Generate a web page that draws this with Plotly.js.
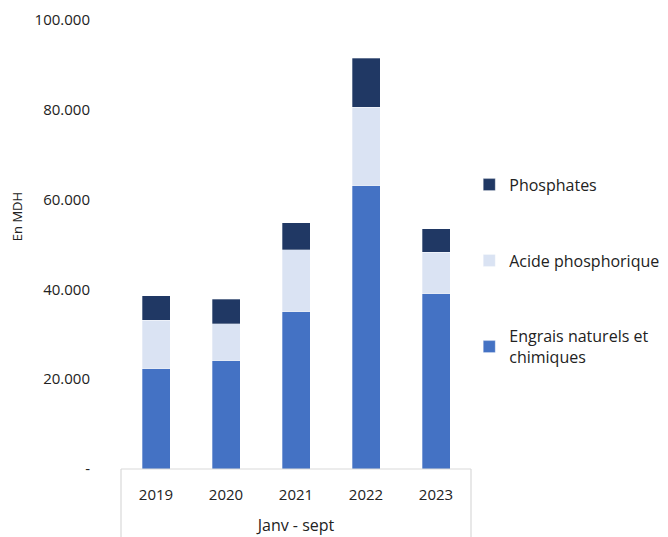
<!DOCTYPE html>
<html>
<head>
<meta charset="utf-8">
<script src="https://cdn.plot.ly/plotly-3.0.1.min.js"></script>
<style>html,body{margin:0;padding:0;background:#fff;}#chart{width:668px;height:537px;}</style>
</head>
<body>
<div id="chart"></div>
<script>
const years = ["2019", "2020", "2021", "2022", "2023"];
const engrais = [22300, 24100, 35000, 63100, 39000];
const acide = [10800, 8200, 13800, 17500, 9300];
const phosphates = [5500, 5500, 6100, 10900, 5200];
const yTicks = [0, 20000, 40000, 60000, 80000, 100000];
const yTickText = ["-", "20.000", "40.000", "60.000", "80.000", "100.000"];

const FONT = "Open Sans, Lato, sans-serif";
const mkTrace = (name, y, color, grp, rank) => ({
  type: "bar", x: years, y: y, name: name, legendgroup: grp, legendrank: rank,
  marker: {color: color, line: {color: "rgba(255,255,255,0.5)", width: 0.6}},
  hoverinfo: "y+name"
});
const data = [
  mkTrace("Engrais naturels et<br>chimiques", engrais, "#4472C4", "c", 3),
  mkTrace("Acide phosphorique", acide, "#DAE3F3", "b", 2),
  mkTrace("Phosphates", phosphates, "#203864", "a", 1)
];
const layout = {
  width: 668, height: 537,
  margin: {l: 121, r: 197, t: 20, b: 68, autoexpand: false},
  barmode: "stack", bargap: 0.6,
  paper_bgcolor: "#fff", plot_bgcolor: "#fff",
  font: {family: FONT, color: "#222", size: 15},
  showlegend: true,
  legend: {x: 0.995, xanchor: "left", y: 0.671, yanchor: "top", traceorder: "grouped",
           itemwidth: 30, tracegroupgap: 52, font: {size: 16, color: "#222"}, bgcolor: "rgba(0,0,0,0)"},
  xaxis: {type: "category", showgrid: false, showline: false, zeroline: false, ticks: "",
          ticklabelstandoff: 15, tickfont: {size: 15},
          title: {text: "Janv - sept", font: {size: 16}, standoff: 16}},
  yaxis: {range: [0, 100000], tickvals: yTicks, ticktext: yTickText, showgrid: false,
          zeroline: false, showline: false, ticks: "", ticklabelstandoff: 30,
          tickfont: {size: 15}},
  shapes: [
    {type: "line", xref: "paper", yref: "paper", x0: 0, x1: 1, y0: 0, y1: 0, line: {color: "#d9d9d9", width: 1.2}},
    {type: "line", xref: "paper", yref: "paper", x0: 0, x1: 0, y0: 0, y1: -0.16, line: {color: "#d9d9d9", width: 1.2}},
    {type: "line", xref: "paper", yref: "paper", x0: 1, x1: 1, y0: 0, y1: -0.16, line: {color: "#d9d9d9", width: 1.2}}
  ],
  annotations: [
    {text: "En MDH", xref: "paper", yref: "paper", x: -0.297, y: 0.561, showarrow: false,
     textangle: -90, font: {size: 13, color: "#222"}, xanchor: "center", yanchor: "middle"}
  ]
};
Plotly.newPlot("chart", data, layout, {displayModeBar: false, staticPlot: true});
</script>
</body>
</html>
